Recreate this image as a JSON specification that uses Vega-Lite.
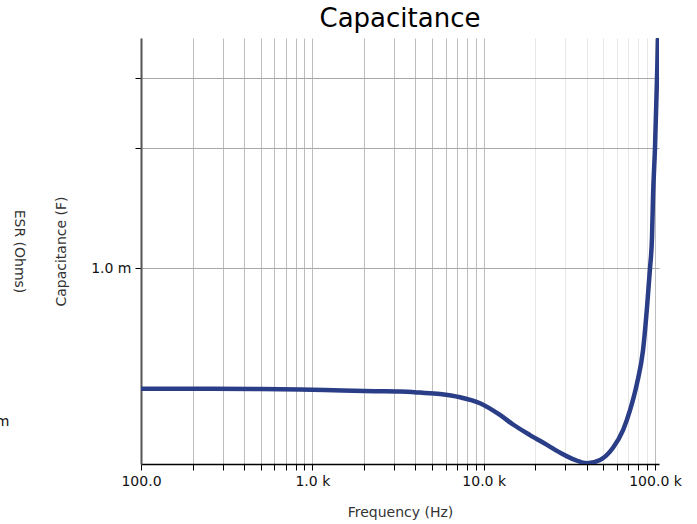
{
  "$schema": "https://vega.github.io/schema/vega-lite/v6.json",
  "autosize": {"type": "none"},
  "padding": {"left": 141, "top": 38, "right": 38, "bottom": 60},
  "width": 518,
  "height": 426,
  "background": "white",
  "title": {"text": "Capacitance", "fontSize": 26, "font": "DejaVu Sans", "fontWeight": "normal", "anchor": "middle", "offset": 6, "color": "#000000"},
  "config": {
    "view": {"stroke": null},
    "axis": {"labelFont": "DejaVu Sans", "titleFont": "DejaVu Sans", "labelFontSize": 14, "titleFontSize": 14, "titleFontWeight": "normal", "labelColor": "#111111", "titleColor": "#333333"}
  },
  "layer": [
    {
      "data": {"values": [
        {"f": 100, "C": 0.000498},
        {"f": 200, "C": 0.000498},
        {"f": 500, "C": 0.000497},
        {"f": 850, "C": 0.000496},
        {"f": 1500, "C": 0.000493},
        {"f": 2300, "C": 0.000491},
        {"f": 3250, "C": 0.00049},
        {"f": 4250, "C": 0.000487},
        {"f": 5560, "C": 0.000483},
        {"f": 7280, "C": 0.000474},
        {"f": 9520, "C": 0.000458},
        {"f": 12450, "C": 0.000428},
        {"f": 14840, "C": 0.000405},
        {"f": 18640, "C": 0.000381},
        {"f": 23430, "C": 0.00036},
        {"f": 29050, "C": 0.000341},
        {"f": 34140, "C": 0.00033},
        {"f": 40110, "C": 0.000324},
        {"f": 47760, "C": 0.00033},
        {"f": 56870, "C": 0.000354},
        {"f": 65070, "C": 0.000392},
        {"f": 71480, "C": 0.00044},
        {"f": 78520, "C": 0.000514},
        {"f": 85110, "C": 0.000622},
        {"f": 89830, "C": 0.000798},
        {"f": 93500, "C": 0.001},
        {"f": 96050, "C": 0.001196},
        {"f": 97350, "C": 0.001507},
        {"f": 100000, "C": 0.002012},
        {"f": 102730, "C": 0.003015},
        {"f": 104800, "C": 0.004}
      ]},
      "mark": {"type": "line", "color": "#2a3d87", "strokeWidth": 4.5, "clip": true, "interpolate": "monotone"},
      "encoding": {
        "x": {
          "field": "f", "type": "quantitative",
          "scale": {"type": "log", "domain": [100, 105500], "nice": false},
          "axis": {
            "title": "Frequency (Hz)",
            "values": [100,200,300,400,500,600,700,800,900,1000,2000,3000,4000,5000,6000,7000,8000,9000,10000,20000,30000,40000,50000,60000,70000,80000,90000,100000],
            "labelExpr": "datum.value == 100 ? '100.0' : datum.value == 1000 ? '1.0 k' : datum.value == 10000 ? '10.0 k' : datum.value == 100000 ? '100.0 k' : ''",
            "labelOverlap": false,
            "labelFlush": false,
            "labelBound": false,
            "labelPadding": 4,
            "tickSize": 6,
            "tickColor": "#000000",
            "domainColor": "#000000",
            "domainWidth": 1.5,
            "gridColor": {"condition": {"test": "datum.value > 10001 && datum.value < 99999", "value": "#e6e6e6"}, "value": "#bdbdbd"},
            "titlePadding": 17
          }
        },
        "y": {
          "field": "C", "type": "quantitative",
          "scale": {"type": "log", "domain": [0.0003224, 0.003776], "nice": false},
          "axis": {
            "title": "Capacitance (F)",
            "values": [0.001, 0.002, 0.003],
            "labelExpr": "datum.value == 0.001 ? '1.0 m' : ''",
            "labelOverlap": false,
            "labelPadding": 4,
            "tickSize": 6,
            "tickColor": "#000000",
            "domainColor": "#555555",
            "domainWidth": 2,
            "gridColor": "#a8a8a8",
            "titlePadding": 22
          }
        }
      }
    },
    {
      "data": {"values": []},
      "mark": {"type": "point", "opacity": 0},
      "encoding": {
        "y": {
          "field": "ESR", "type": "quantitative",
          "scale": {"type": "log", "domain": [0.0777, 1], "nice": false},
          "axis": {
            "orient": "left",
            "offset": 132,
            "title": "ESR (Ohms)",
            "titleAngle": 90,
            "titleX": 9,
            "titleY": 213,
            "titleAlign": "center",
            "titleBaseline": "middle",
            "values": [0.1],
            "labelExpr": "'100.0 m'",
            "domain": false,
            "ticks": false,
            "grid": false,
            "labelPadding": 0
          }
        }
      }
    }
  ],
  "resolve": {"scale": {"y": "independent"}, "axis": {"y": "independent"}}
}
